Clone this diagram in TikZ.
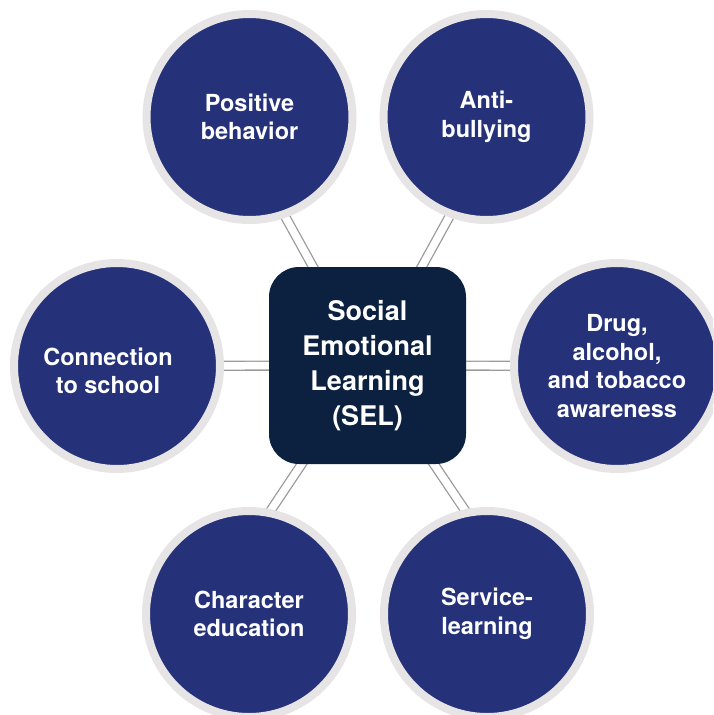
\documentclass[tikz,border=0pt]{standalone}
\usepackage{fontspec}
\setmainfont{TeX Gyre Heros}
\usetikzlibrary{backgrounds}

\definecolor{selnavy}{RGB}{12,33,64}
\definecolor{topicblue}{RGB}{37,50,121}
\definecolor{ringgray}{RGB}{230,228,229}
\definecolor{linkgray}{RGB}{155,155,155}

\begin{document}
\begin{tikzpicture}[x=1pt, y=-1pt,
    hub/.style={rectangle, rounded corners=30pt, fill=selnavy, text=white,
      minimum size=197pt, inner sep=0pt, align=center,
      font=\bfseries\fontsize{27}{35}\selectfont},
    topic/.style={circle, fill=topicblue, draw=ringgray, line width=8pt,
      minimum size=206pt, inner sep=0pt, text=white, align=center,
      font=\bfseries\fontsize{23.5}{28.5}\selectfont},
    link/.style={draw=linkgray, line width=1.3pt, double=white, double distance=7.5pt}]
      \useasboundingbox (0,0) rectangle (713,715);
      \clip (0,0) rectangle (713,715);
      % Hub:
      \node[hub] (sel) at (367.5,365.5) {Social\\Emotional\\Learning\\(SEL)};
      % Topics:
      \node[topic] (tl) at (249.5,117) {Positive\\behavior};
      \node[topic] (tr) at (486.5,117) {Anti-\\bullying};
      \node[topic, label={[text=white, align=center, xshift=-9pt, yshift=-5pt,
          font=\bfseries\fontsize{23.5}{28.5}\selectfont]center:Connection\\to school}]
        (lf) at (117,366) {};
      \node[topic] (rt) at (617,366) {Drug,\\alcohol,\\and tobacco\\awareness};
      \node[topic] (bl) at (249,614) {Character\\education};
      \node[topic] (br) at (487,614) {Service-\\learning};
      % Link ends inside the circles:
      \coordinate (tl-end) at (270.5,190);
      \coordinate (tr-end) at (464,190);
      \coordinate (bl-end) at (251,540);
      \coordinate (br-end) at (485,540);
      % Links:
      \begin{scope}[on background layer]
        \foreach \e in {tl-end, tr-end, bl-end, br-end, lf, rt}
          \draw[link] (sel.center) -- (\e.center);
      \end{scope}
    \end{tikzpicture}
\end{document}
